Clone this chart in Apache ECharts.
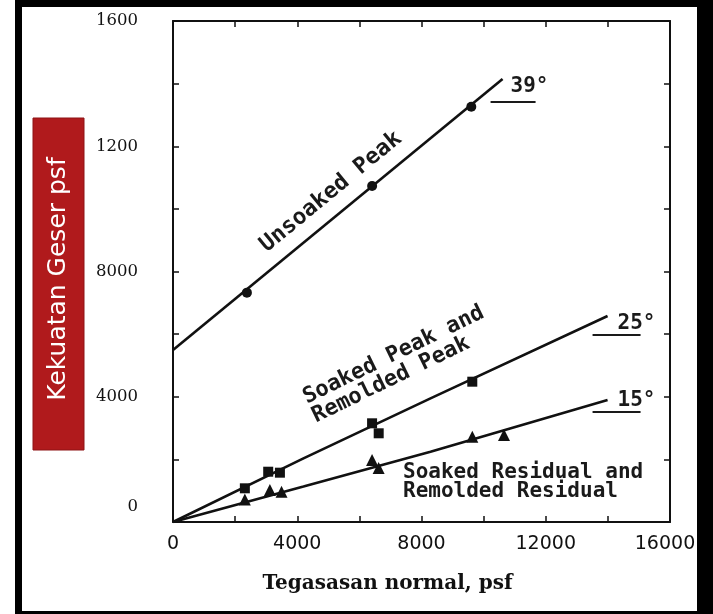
<!DOCTYPE html>
<html><head><meta charset="utf-8">
<script src="https://cdn.jsdelivr.net/npm/echarts@6/dist/echarts.min.js"></script>
<style>html,body{margin:0;padding:0;background:#fff}#c{width:713px;height:614px}</style>
</head><body><div id="c"></div>
<script>
// ---- data ----
const xTickLabels = ['0', '4000', '8000', '12000', '16000'];
const yTickLabels = ['0', '4000', '8000', '1200', '1600'];
const unsoakedLine = [[0, 5490], [10610, 14150]];
const unsoakedPoints = [[2379, 7325], [6410, 10731], [9603, 13263]];
const soakedPeakLine = [[0, 0], [4200, 2030], [8290, 3950], [13990, 6580]];
const soakedPeakPoints = [[2313, 1076], [3065, 1606], [3442, 1575], [6409, 3152], [6622, 2833], [9635, 4481]];
const residualLine = [[0, 0], [4200, 1130], [8290, 2245], [13990, 3900]];
const residualPoints = [[2313, 720], [3119, 1022], [3494, 968], [6409, 1980], [6620, 1725], [9635, 2724], [10656, 2778]];
const angleLabels = ['39°', '25°', '15°'];
const curveNames = ['Unsoaked Peak', 'Soaked Peak and\nRemolded Peak', 'Soaked Residual and\nRemolded Residual'];
const xAxisTitle = 'Tegasasan normal, psf';
const yAxisTitle = 'Kekuatan Geser psf';

// ---- chart ----
const black = '#111';
const ink = '#1a1a1a';
const mono = px => 'bold ' + px + 'px "DejaVu Sans Mono"';
const chart = echarts.init(document.getElementById('c'));

function fitLine(data) {
  return { type: 'line', data: data, symbol: 'none', silent: true, z: 3,
    lineStyle: { color: black, width: 2.6 } };
}
function points(data, symbol, size) {
  return { type: 'scatter', data: data, symbol: symbol, symbolSize: size, z: 4,
    itemStyle: { color: black, opacity: 1 } };
}
const axLine = { show: true, onZero: false, lineStyle: { color: black, width: 2 } };
const axTick = { show: true, inside: true, length: 6, lineStyle: { color: black, width: 1.5 } };

chart.setOption({
  animation: false,
  backgroundColor: '#fff',
  grid: { left: 173, top: 21, right: 43, bottom: 92, containLabel: false, outerBoundsMode: 'none' },
  xAxis: [{
    type: 'value', min: 0, max: 16000, interval: 2000, position: 'bottom',
    axisLine: axLine, axisTick: axTick, splitLine: { show: false },
    axisLabel: { margin: 13, color: black, fontFamily: 'DejaVu Sans', fontSize: 19,
      formatter: v => (v === 16000 ? '{r|' + xTickLabels[4] + '}' : (v % 4000 === 0 ? xTickLabels[v / 4000] : '')),
      rich: { r: { fontFamily: 'DejaVu Sans', fontSize: 19, color: black, padding: [0, 10, 0, 0] } } },
    name: xAxisTitle, nameLocation: 'middle', nameGap: 52,
    nameTextStyle: { fontFamily: 'DejaVu Serif', fontWeight: 'bold', fontSize: 20, color: black, padding: [0, 68, 0, 0] }
  }, {
    type: 'value', min: 0, max: 16000, interval: 2000, position: 'top',
    axisLine: axLine, axisTick: axTick, splitLine: { show: false }, axisLabel: { show: false }
  }],
  yAxis: [{
    type: 'value', min: 0, max: 16000, interval: 2000, position: 'left',
    axisLine: axLine, axisTick: axTick, splitLine: { show: false },
    axisLabel: { margin: 35, color: black, fontFamily: 'DejaVu Serif', fontSize: 16.5,
      formatter: v => (v === 0 ? '{z|0}' : (v % 4000 === 0 ? yTickLabels[v / 4000] : '')),
      rich: { z: { fontFamily: 'DejaVu Serif', fontSize: 16.5, color: black, padding: [0, 0, 30, 0] } } }
  }, {
    type: 'value', min: 0, max: 16000, interval: 2000, position: 'right',
    axisLine: axLine, axisTick: axTick, splitLine: { show: false }, axisLabel: { show: false }
  }],
  series: [
    fitLine(unsoakedLine), points(unsoakedPoints, 'circle', 10),
    fitLine(soakedPeakLine), points(soakedPeakPoints, 'rect', 10),
    fitLine(residualLine), points(residualPoints, 'triangle', 12)
  ]
});

// annotations anchored to the line ends
const ends = [unsoakedLine[unsoakedLine.length - 1], soakedPeakLine[soakedPeakLine.length - 1], residualLine[residualLine.length - 1]];
const angleLayout = [
  { dx: -12, dy: 8, gap: 15, spacer: 20, w: 45 },
  { dx: -15, dy: 8, gap: 11, spacer: 25, w: 48 },
  { dx: -15, dy: 1, gap: 11, spacer: 25, w: 48 }
];
const graphics = [
  // outer picture frame
  { type: 'rect', shape: { x: 15, y: 0, width: 7, height: 614 }, style: { fill: '#000' }, silent: true },
  { type: 'rect', shape: { x: 15, y: 0, width: 698, height: 7 }, style: { fill: '#000' }, silent: true },
  { type: 'rect', shape: { x: 697, y: 0, width: 16, height: 614 }, style: { fill: '#000' }, silent: true },
  { type: 'rect', shape: { x: 15, y: 611, width: 698, height: 3 }, style: { fill: '#000' }, silent: true },
  // y-axis title box
  { type: 'rect', shape: { x: 33, y: 118, width: 51, height: 332 }, style: { fill: '#b01a1c', stroke: '#8e1214', lineWidth: 1 }, silent: true },
  { type: 'text', x: 58, y: 279, rotation: Math.PI / 2, silent: true,
    style: { text: yAxisTitle, fill: '#fff', font: '25px "DejaVu Sans"', align: 'center', verticalAlign: 'middle' } },
  // curve names
  { type: 'text', x: 331, y: 192, rotation: 39.5 * Math.PI / 180, silent: true,
    style: { text: curveNames[0], fill: ink, font: mono(22.5), align: 'center', verticalAlign: 'middle' } },
  { type: 'text', x: 309, y: 408, rotation: 26 * Math.PI / 180, silent: true,
    style: { text: curveNames[1], fill: ink, font: mono(22), lineHeight: 21, align: 'left', verticalAlign: 'middle' } },
  { type: 'text', x: 403, y: 482, silent: true,
    style: { text: curveNames[2], fill: ink, font: mono(21), lineHeight: 19.5, align: 'left', verticalAlign: 'middle' } }
];
ends.forEach((e, i) => {
  const p = chart.convertToPixel({ gridIndex: 0 }, e);
  const L = angleLayout[i];
  const left = p[0] + L.dx, cy = p[1] + L.dy;
  graphics.push({ type: 'text', x: left + L.spacer, y: cy, silent: true,
    style: { text: angleLabels[i], fill: ink, font: mono(21), align: 'left', verticalAlign: 'middle' } });
  graphics.push({ type: 'rect', shape: { x: left, y: cy + L.gap - 1, width: L.w, height: 2 }, style: { fill: ink }, silent: true });
});
chart.setOption({ graphic: graphics });
</script>
</body></html>
